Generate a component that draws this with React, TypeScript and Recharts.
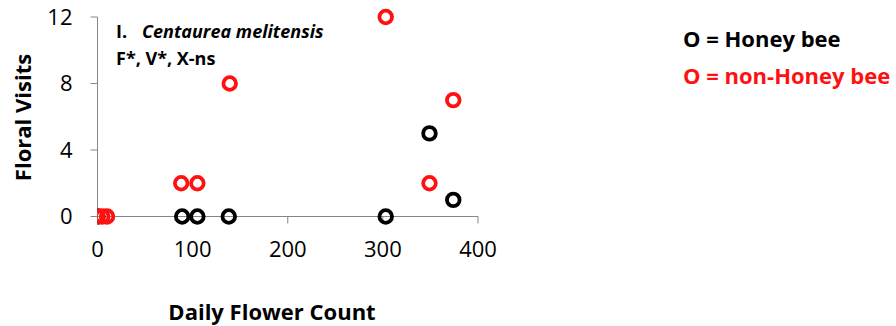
import React from 'react';
import { ScatterChart, Scatter, XAxis, YAxis } from 'recharts';

const honeyFlowers = [0, 89, 105, 138, 303, 349, 374];
const honeyVisits = [0, 0, 0, 0, 0, 5, 1];
const otherFlowers = [0, 10, 5, 88, 105, 139, 303, 349, 374];
const otherVisits = [0, 0, 0, 2, 2, 8, 12, 2, 7];
const xTicks = [0, 100, 200, 300, 400];
const yTicks = [0, 4, 8, 12];

const honeyData = honeyFlowers.map((f, i) => ({ flowers: f, visits: honeyVisits[i] }));
const otherData = otherFlowers.map((f, i) => ({ flowers: f, visits: otherVisits[i] }));

const font = '"Open Sans", Lato, sans-serif';
const axisColor = '#868686';
const red = '#ff1111';

const ring = (color: string) => (props: any) => (
  <circle cx={props.cx} cy={props.cy} r={6.3} fill="none" stroke={color} strokeWidth={3.8} />
);

const tickStyle = { fontSize: 22, fill: '#000', fontFamily: font };

export default function App() {
  return (
    <div style={{ position: 'absolute', left: 0, top: 0, width: 896, height: 326, background: '#fff' }}>
      <ScatterChart
        width={896}
        height={326}
        margin={{ top: 17, right: 418, bottom: 69.5, left: 0.5 }}
      >
        <XAxis
          type="number"
          dataKey="flowers"
          domain={[0, 400]}
          ticks={xTicks}
          height={40}
          stroke={axisColor}
          tickSize={7}
          tickMargin={18}
          tick={tickStyle}
          allowDataOverflow
        />
        <YAxis
          type="number"
          dataKey="visits"
          domain={[0, 12]}
          ticks={yTicks}
          width={97}
          stroke={axisColor}
          tickSize={7}
          tickMargin={18}
          tick={tickStyle}
        />
        <Scatter data={honeyData} shape={ring('#000')} isAnimationActive={false} />
        <Scatter data={otherData} shape={ring(red)} isAnimationActive={false} />
      </ScatterChart>
      <svg
        width={896}
        height={326}
        style={{ position: 'absolute', left: 0, top: 0, pointerEvents: 'none' }}
        fontFamily={font}
        fontWeight="bold"
      >
        <text x={272} y={320} textAnchor="middle" fontSize={22}>Daily Flower Count</text>
        <text transform="translate(31,117.5) rotate(-90)" textAnchor="middle" fontSize={22}>Floral Visits</text>
        <text x={116} y={37.5} fontSize={18}>I.</text>
        <text x={142} y={37.5} fontSize={18} fontStyle="italic">Centaurea melitensis</text>
        <text x={116} y={65} fontSize={18}>F*, V*, X-ns</text>
        <text x={683} y={46.5} fontSize={22}>O = Honey bee</text>
        <text x={683} y={84} fontSize={22} fill={red}>O = non-Honey bee</text>
      </svg>
    </div>
  );
}
